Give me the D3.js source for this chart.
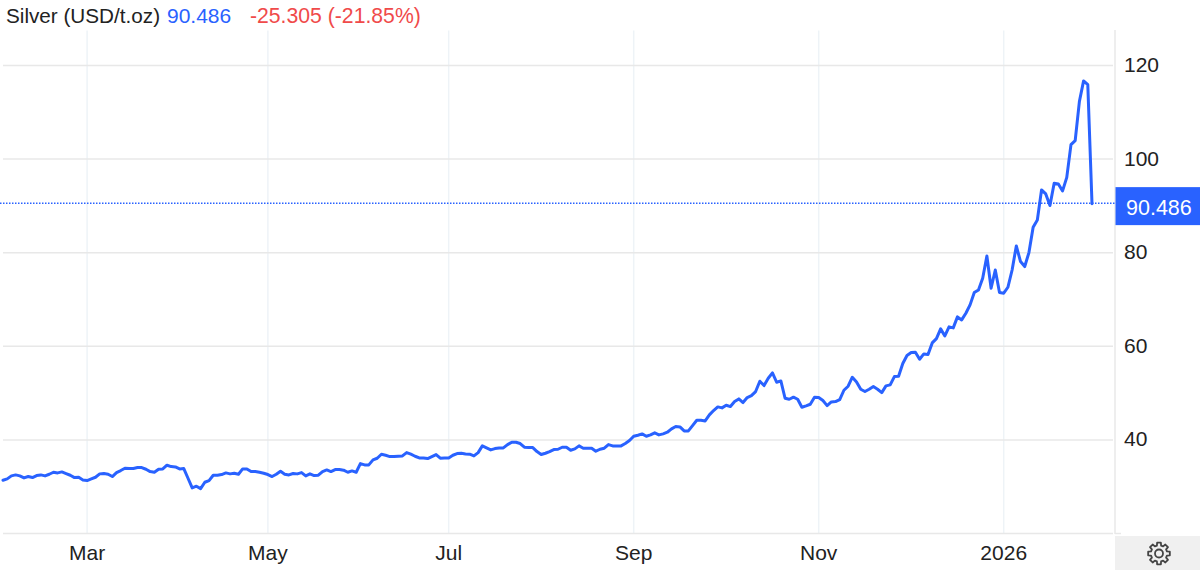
<!DOCTYPE html>
<html><head><meta charset="utf-8">
<style>html,body{margin:0;padding:0;background:#fff}svg{display:block}text{font-family:"Liberation Sans",Arial,sans-serif}</style>
<script src="https://cdn.jsdelivr.net/npm/d3@7"></script></head>
<body><div id="chart"></div>
<script>
const silverPrices = [
31.38,31.67,32.31,32.52,32.31,31.88,32.17,31.95,32.38,32.52,32.31,32.66,33.09,32.95,33.16,32.81,32.45,31.95,32.02,31.45,
31.31,31.67,32.02,32.74,32.81,32.66,32.17,33.02,33.45,33.95,33.88,33.88,34.09,34.09,33.73,33.23,33.09,33.73,33.8,34.59,
34.3,34.23,33.8,33.88,31.81,29.74,30.1,29.6,30.95,31.31,32.45,32.45,32.6,32.95,32.74,32.88,32.66,33.8,33.8,33.23,
33.23,33.09,32.88,32.6,32.17,32.66,33.3,32.66,32.52,32.81,32.74,33.02,32.31,32.74,32.38,32.45,33.23,33.59,33.23,33.66,
33.66,33.52,33.09,33.38,33.09,34.94,34.66,34.66,35.73,36.08,36.94,36.72,36.44,36.44,36.51,36.58,37.29,36.94,36.51,36.15,
36.15,36.01,36.44,36.87,36.08,36.15,36.15,36.72,37.08,37.15,37.01,36.94,36.58,37.29,38.72,38.29,37.86,38.15,38.29,38.29,
39.0,39.5,39.5,39.22,38.43,38.36,38.36,37.5,36.87,37.15,37.5,37.93,38.0,38.43,38.43,37.79,38.08,38.72,38.22,38.22,
38.22,37.58,38.0,38.22,39.0,38.72,38.72,38.72,39.22,39.86,40.78,41.0,41.28,40.78,41.07,41.5,41.07,41.28,41.64,42.35,
42.85,42.78,41.92,41.92,43.06,44.2,44.2,44.06,45.34,46.27,47.05,46.84,47.41,47.12,48.19,48.76,47.98,49.05,49.47,50.33,
52.53,51.61,53.18,54.32,52.32,52.6,48.9,48.69,49.12,48.69,46.98,47.27,47.62,49.12,49.05,48.4,47.33,48.12,48.19,48.62,
50.61,51.47,53.39,52.39,50.83,50.33,50.83,51.4,50.83,50.11,51.54,51.75,53.53,53.6,56.31,58.02,58.66,58.73,57.24,58.37,
58.23,60.73,61.65,63.72,62.22,64.15,63.93,66.28,65.64,67.07,68.85,71.48,72.05,74.54,79.3,72.4,76.3,71.48,71.34,72.62,
76.3,81.45,78.1,77.04,80.03,85.44,87.0,93.42,92.56,90.07,94.84,94.7,93.2,96.1,103.1,103.96,112.3,116.71,115.9,90.486];
const xTickLabels = ["Mar","May","Jul","Sep","Nov","2026"];
const xTickSessions = [20,63,106,150,194,238];
const yTicks = [40,60,80,100,120];
const titleLabel = "Silver (USD/t.oz)";
const lastLabel = "90.486";
const changeLabel = "-25.305 (-21.85%)";
const lastPrice = 90.486;

const W=1200,H=570;
const blue="#2962ff";
const fontStack='"Liberation Sans",Arial,sans-serif';
const x=d3.scaleLinear().domain([0,silverPrices.length-1]).range([3,1092]);
const y=d3.scaleLinear().domain([20,120]).range([533.5,65.5]);
const svg=d3.select("#chart").append("svg").attr("width",W).attr("height",H).attr("viewBox",[0,0,W,H]);

// vertical month grid and labels
const xAxis=d3.axisBottom(x).tickValues(xTickSessions).tickFormat((d,i)=>xTickLabels[i]).tickSize(-503).tickPadding(12);
const gx=svg.append("g").attr("transform","translate(-0.5,533.5)").call(xAxis);
gx.select(".domain").remove();
gx.selectAll("line").attr("stroke","#eef3f7").attr("stroke-width",1.5);
gx.selectAll("text").attr("fill","#222").attr("font-size",21).style("font-family",fontStack);

// horizontal grid and labels on the right
const yAxis=d3.axisRight(y).tickValues(yTicks).tickSize(0).tickPadding(0);
const gy=svg.append("g").attr("transform","translate(1124,-0.7)").call(yAxis);
gy.select(".domain").remove();
gy.selectAll("line").remove();
gy.selectAll("text").attr("fill","#222").attr("font-size",21).style("font-family",fontStack);
svg.append("g").selectAll("line").data([20].concat(yTicks)).join("line")
  .attr("x1",3).attr("x2",1113).attr("y1",d=>y(d)).attr("y2",d=>y(d))
  .attr("stroke","#e8e8e8").attr("stroke-width",1.5);

// right axis rule
svg.append("line").attr("x1",1115).attr("x2",1115).attr("y1",30).attr("y2",534).attr("stroke","#e8e8e8").attr("stroke-width",1.5);
svg.append("line").attr("x1",1115).attr("x2",1121).attr("y1",533.5).attr("y2",533.5).attr("stroke","#e8e8e8").attr("stroke-width",1.5);

// last price guide
const guideY=y(lastPrice)-0.4;
svg.append("line").attr("x1",0).attr("x2",1115).attr("y1",guideY).attr("y2",guideY)
  .attr("stroke",blue).attr("stroke-width",1.5).attr("stroke-dasharray","1.5 1.5");

// series
svg.append("path").datum(silverPrices)
  .attr("d",d3.line().x((d,i)=>x(i)).y(d=>y(d)))
  .attr("fill","none").attr("stroke",blue).attr("stroke-width",3).attr("stroke-linejoin","round").attr("stroke-linecap","round");

// last price tag
svg.append("rect").attr("x",1115.5).attr("y",y(lastPrice)-16.5).attr("width",84.5).attr("height",38).attr("fill",blue);
svg.append("text").attr("x",1126).attr("y",y(lastPrice)+11).attr("fill","#fff").attr("font-size",21.5).text(lastLabel);

// title
svg.append("text").attr("x",6).attr("y",23).attr("fill","#222").attr("font-size",20.7).text(titleLabel);
svg.append("text").attr("x",167).attr("y",23).attr("fill",blue).attr("font-size",21).text(lastLabel);
svg.append("text").attr("x",250).attr("y",23).attr("fill","#f04a4a").attr("font-size",21.2).text(changeLabel);

// settings box + gear
svg.append("rect").attr("x",1115).attr("y",536).attr("width",85).attr("height",34).attr("fill","#f0f0f0");
const gear=svg.append("g").attr("transform","translate(1159,553.5)").attr("fill","none").attr("stroke","#444").attr("stroke-width",1.8).attr("stroke-linejoin","round");
const teeth=8,pts=[];
for(let i=0;i<teeth;i++){const a=i/teeth*2*Math.PI;
  [[-0.26,8.2],[-0.17,11],[0.17,11],[0.26,8.2]].forEach(([o,r])=>pts.push([r*Math.sin(a+o),-r*Math.cos(a+o)]));}
gear.append("path").attr("d",d3.line().curve(d3.curveLinearClosed)(pts));
gear.append("circle").attr("r",4);
</script></body></html>
